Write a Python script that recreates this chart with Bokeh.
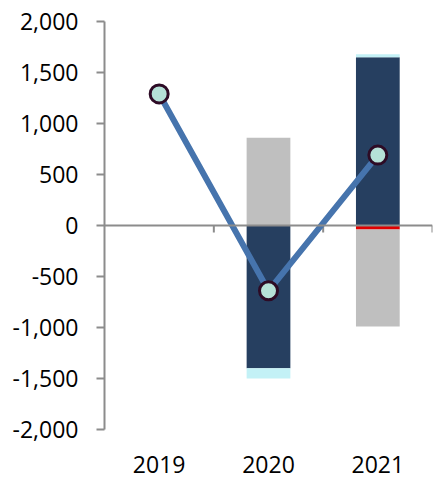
import math
from bokeh.plotting import figure
from bokeh.models import (ColumnDataSource, Range1d, FixedTicker, NumeralTickFormatter, Span)
from bokeh.embed import file_html
from bokeh.resources import INLINE

# Categories and series values
years = ["2019", "2020", "2021"]
navy_vals = [0, -1400, 1650]
cyan_vals = [0, -100, 30]
red_vals = [0, 0, -40]
gray_vals = [0, 860, -950]
net_vals = [1290, -640, 690]

y_ticks = [-2000, -1500, -1000, -500, 0, 500, 1000, 1500, 2000]

FONT = "Open Sans"
AXIS_GRAY = "#8C8C8C"

p = figure(width=433, height=478, output_backend="svg", toolbar_location=None,
           x_range=Range1d(0, len(years)), y_range=Range1d(-2000, 2000),
           min_border_left=104, min_border_right=1, min_border_top=21, min_border_bottom=49)
p.outline_line_color = None
p.xgrid.visible = False
p.ygrid.visible = False
p.background_fill_color = "white"

xs = [i + 0.5 for i in range(len(years))]

# Stack positive and negative parts separately, in series order
series = [(navy_vals, "#263F60"), (cyan_vals, "#C3F1F6"), (red_vals, "#E00000"), (gray_vals, "#BFBFBF")]
pos_base = [0.0] * len(years)
neg_base = [0.0] * len(years)
for vals, color in series:
    bottoms, tops, xx = [], [], []
    for i, v in enumerate(vals):
        if v == 0:
            continue
        if v > 0:
            b, t = pos_base[i], pos_base[i] + v
            pos_base[i] = t
        else:
            b, t = neg_base[i] + v, neg_base[i]
            neg_base[i] = b
        bottoms.append(b)
        tops.append(t)
        xx.append(xs[i])
    src = ColumnDataSource(dict(x=xx, bottom=bottoms, top=tops))
    p.vbar(x="x", bottom="bottom", top="top", width=0.4, source=src,
           fill_color=color, line_color=None)

# Zero line with category dividers hanging below it
p.add_layout(Span(location=0, dimension="width", line_color=AXIS_GRAY, line_width=2))
bounds = list(range(1, len(years) + 1))
p.ray(x=bounds, y=[0] * len(bounds), length=7, length_units="screen", angle=-math.pi / 2,
      line_color=AXIS_GRAY, line_width=2)

# Net line with markers
line_src = ColumnDataSource(dict(x=xs, y=net_vals))
p.line("x", "y", source=line_src, line_color="#4674AD", line_width=6)
p.scatter("x", "y", source=line_src, size=18, fill_color="#B5E1D7",
          line_color="#2D0B25", line_width=3)

# Y axis
p.yaxis.ticker = FixedTicker(ticks=y_ticks)
p.yaxis.formatter = NumeralTickFormatter(format="0,0")
p.yaxis.axis_line_color = AXIS_GRAY
p.yaxis.axis_line_width = 2
p.yaxis.major_tick_line_color = AXIS_GRAY
p.yaxis.major_tick_line_width = 2
p.yaxis.major_tick_out = 8
p.yaxis.major_tick_in = 0
p.yaxis.minor_tick_line_color = None
p.yaxis.major_label_standoff = 18
p.yaxis.major_label_text_font = FONT
p.yaxis.major_label_text_font_size = "23px"
p.yaxis.major_label_text_color = "#000000"

# X axis: labels only
p.xaxis.ticker = FixedTicker(ticks=xs)
p.xaxis.major_label_overrides = {x: y for x, y in zip(xs, years)}
p.xaxis.axis_line_color = None
p.xaxis.major_tick_line_color = None
p.xaxis.minor_tick_line_color = None
p.xaxis.major_label_standoff = 20
p.xaxis.major_label_text_font = FONT
p.xaxis.major_label_text_font_size = "23px"
p.xaxis.major_label_text_color = "#000000"

open("out.html", "w").write(file_html(p, INLINE))
